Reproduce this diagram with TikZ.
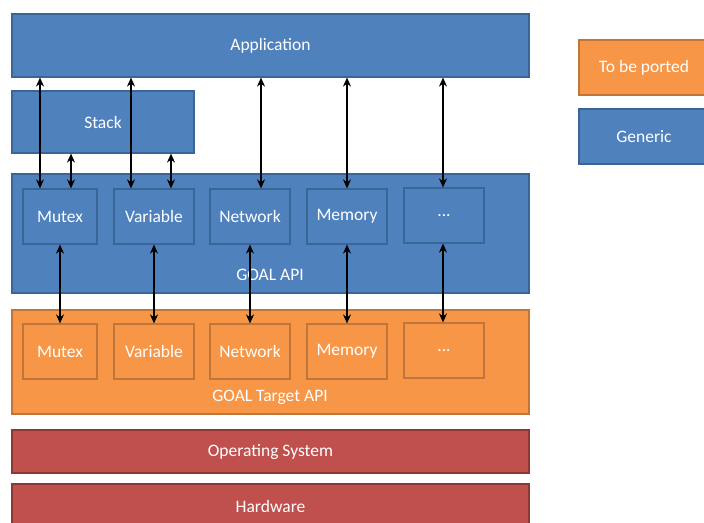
\documentclass[tikz,border=0pt]{standalone}
\usepackage{fontspec}
\setmainfont{Carlito}
\usetikzlibrary{arrows.meta}
\definecolor{gblue}{HTML}{4F81BD}
\definecolor{gblueb}{HTML}{3A6597}
\definecolor{gorange}{HTML}{F79646}
\definecolor{goranged}{HTML}{C0763A}
\definecolor{gred}{HTML}{C0504D}
\definecolor{gredd}{HTML}{8C3836}
\tikzset{
  box/.style={rectangle, inner sep=0pt, text=white, font=\fontsize{17.5}{20}\selectfont, line width=1.2pt},
  bluebox/.style={box, fill=gblue, draw=gblueb},
  orangebox/.style={box, fill=gorange, draw=goranged},
  redbox/.style={box, fill=gred, draw=gredd},
  lbl/.style={text=white, font=\fontsize{17.5}{20}\selectfont, inner sep=0pt},
  arr/.style={line width=2.4pt, {Stealth[length=9pt,width=8pt]}-{Stealth[length=9pt,width=8pt]}},
}
\begin{document}
\begin{tikzpicture}[x=1pt,y=-1pt]
\useasboundingbox (0,0) rectangle (704,522);
% Application
\node[bluebox, minimum width=517pt, minimum height=63pt] (app) at (270.5,45.5) {Application};
% Stack
\node[bluebox, minimum width=182pt, minimum height=62pt] (stack) at (103,122) {Stack};
% GOAL API
\node[bluebox, minimum width=517pt, minimum height=119pt] (api) at (270.5,233.5) {};
\node[lbl] (apilbl) at (270,275) {GOAL API};
\node[bluebox, minimum width=74pt, minimum height=55pt] (am) at (60,216.5) {Mutex};
\node[bluebox, minimum width=80pt, minimum height=55pt] (av) at (154,216.5) {Variable};
\node[bluebox, minimum width=80pt, minimum height=55pt] (an) at (250,216.5) {Network};
\node[bluebox, minimum width=80pt, minimum height=55pt] (ay) at (347,216.5) {Memory};
\node[bluebox, minimum width=80pt, minimum height=55pt] (ad) at (444,215.5) {...};
% GOAL Target API
\node[orangebox, minimum width=517pt, minimum height=104pt] (tgt) at (270.5,362) {};
\node[lbl] (tgtlbl) at (270,397) {GOAL Target API};
\node[orangebox, minimum width=74pt, minimum height=55pt] (tm) at (60,351.5) {Mutex};
\node[orangebox, minimum width=80pt, minimum height=55pt] (tv) at (154,351.5) {Variable};
\node[orangebox, minimum width=80pt, minimum height=55pt] (tn) at (250,351.5) {Network};
\node[orangebox, minimum width=80pt, minimum height=55pt] (ty) at (347,351.5) {Memory};
\node[orangebox, minimum width=80pt, minimum height=55pt] (td) at (444,350.5) {...};
% OS and hardware
\node[redbox, minimum width=517pt, minimum height=43pt] (os) at (270.5,451.5) {Operating System};
\node[redbox, minimum width=517pt, minimum height=44pt] (hw) at (270.5,506) {Hardware};
% Legend
\node[orangebox, minimum width=130pt, minimum height=55pt] (lport) at (644,67.5) {To be ported};
\node[bluebox, minimum width=130pt, minimum height=55pt] (lgen) at (644,136.5) {Generic};
% Arrows from Application
\draw[arr] ([xshift=-20pt]am.north |- app.south) -- ([xshift=-20pt]am.north);
\draw[arr] ([xshift=-23pt]av.north |- app.south) -- ([xshift=-23pt]av.north);
\draw[arr] ([xshift=11pt]an.north |- app.south) -- ([xshift=11pt]an.north);
\draw[arr] (ay.north |- app.south) -- (ay.north);
\draw[arr] ([xshift=-1pt]ad.north |- app.south) -- ([xshift=-1pt]ad.north);
% Arrows from Stack
\draw[arr] ([xshift=11pt]am.north |- stack.south) -- ([xshift=11pt]am.north);
\draw[arr] ([xshift=17pt]av.north |- stack.south) -- ([xshift=17pt]av.north);
% Arrows API to target
\draw[arr] (am.south) -- (tm.north);
\draw[arr] (av.south) -- (tv.north);
\draw[arr] (an.south) -- (tn.north);
\draw[arr] (ay.south) -- (ty.north);
\draw[arr] ([xshift=-1pt]ad.south) -- ([xshift=-1pt]td.north);
\end{tikzpicture}
\end{document}
